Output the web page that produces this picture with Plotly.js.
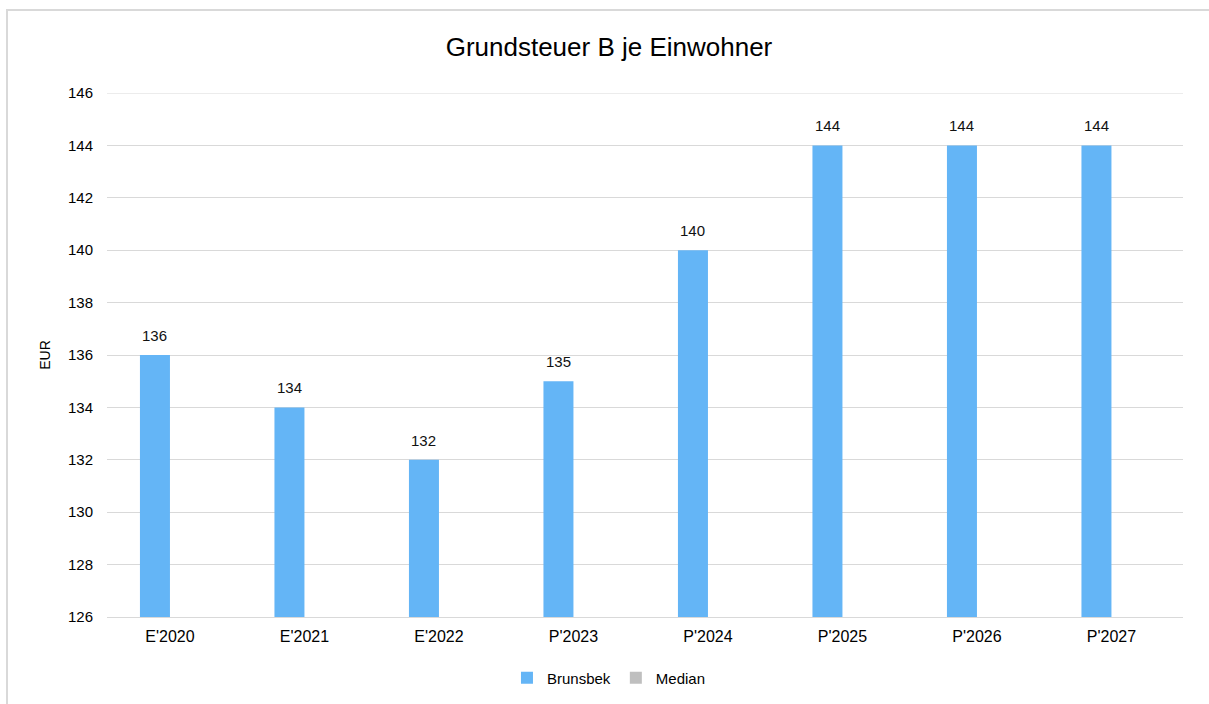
<!DOCTYPE html>
<html>
<head>
<meta charset="utf-8">
<script src="https://cdn.plot.ly/plotly-3.0.1.min.js"></script>
<style>
html,body{margin:0;padding:0;background:#fff;overflow:hidden;}
#frame{position:absolute;left:6px;top:9px;width:1300px;height:800px;border:2px solid #d9d9d9;box-sizing:border-box;}
#chart{position:absolute;left:0;top:0;width:1209px;height:704px;}
</style>
</head>
<body>
<div id="frame"></div>
<div id="chart"></div>
<script>
const categories = ["E'2020","E'2021","E'2022","P'2023","P'2024","P'2025","P'2026","P'2027"];
const brunsbek = [136,134,132,135,140,144,144,144];
const median = [null,null,null,null,null,null,null,null];
const yTicks = [126,128,130,132,134,136,138,140,142,144,146];

const fam = 'Liberation Sans, Arial, sans-serif';
const font = {family: fam, color: '#000', size: 15};

const traces = [
  {type:'bar', name:'Brunsbek', x:categories, y:brunsbek, marker:{color:'#64B5F6'}, hoverinfo:'none'},
  {type:'bar', name:'Median', x:categories, y:median, marker:{color:'#BFBFBF'}, hoverinfo:'none'}
];

const annotations = categories.map((c,i)=>({
  x:c, y:brunsbek[i], xref:'x', yref:'y', text:String(brunsbek[i]),
  showarrow:false, yanchor:'bottom', xanchor:'center', xshift:-15, yshift:9,
  font:{family:fam, size:15, color:'#111'}
}));

const yMax = yTicks[yTicks.length-1];

const layout = {
  width:1209, height:704,
  margin:{l:107, r:26, t:93, b:87, pad:0},
  paper_bgcolor:'rgba(0,0,0,0)', plot_bgcolor:'rgba(0,0,0,0)',
  font:font,
  title:{text:'Grundsteuer B je Einwohner', font:{family:fam, size:26, color:'#000'}, x:0.5037, xanchor:'center', y:0.934, yanchor:'middle', xref:'container', yref:'container'},
  barmode:'group', bargap:0.554, bargroupgap:0,
  xaxis:{type:'category', range:[-0.468, 7.532], showgrid:false, showline:true, linecolor:'#d9d9d9', linewidth:1, ticks:'outside', ticklen:5, tickcolor:'rgba(0,0,0,0)', tickfont:{size:16}, automargin:false},
  yaxis:{range:[yTicks[0], yMax], tickvals:yTicks, ticktext:yTicks.map(String), showgrid:true, gridcolor:'#d9d9d9', gridwidth:1, zeroline:false, showline:false, ticks:'outside', ticklen:10, tickcolor:'rgba(0,0,0,0)', tickfont:{size:15}, automargin:false,
    title:{text:'EUR', font:{size:14}, standoff:14}},
  legend:{orientation:'h', x:0.5037, xanchor:'center', xref:'container', y:0.037, yanchor:'middle', yref:'container', font:{size:15}, itemwidth:30, traceorder:'normal', itemclick:false},
  showlegend:true,
  shapes:[{type:'line', xref:'paper', yref:'y', x0:0, x1:1, y0:yMax, y1:yMax, line:{color:'#d9d9d9', width:1}, layer:'below'}],
  annotations:annotations
};

Plotly.newPlot('chart', traces, layout, {displayModeBar:false, staticPlot:true});
</script>
</body>
</html>
